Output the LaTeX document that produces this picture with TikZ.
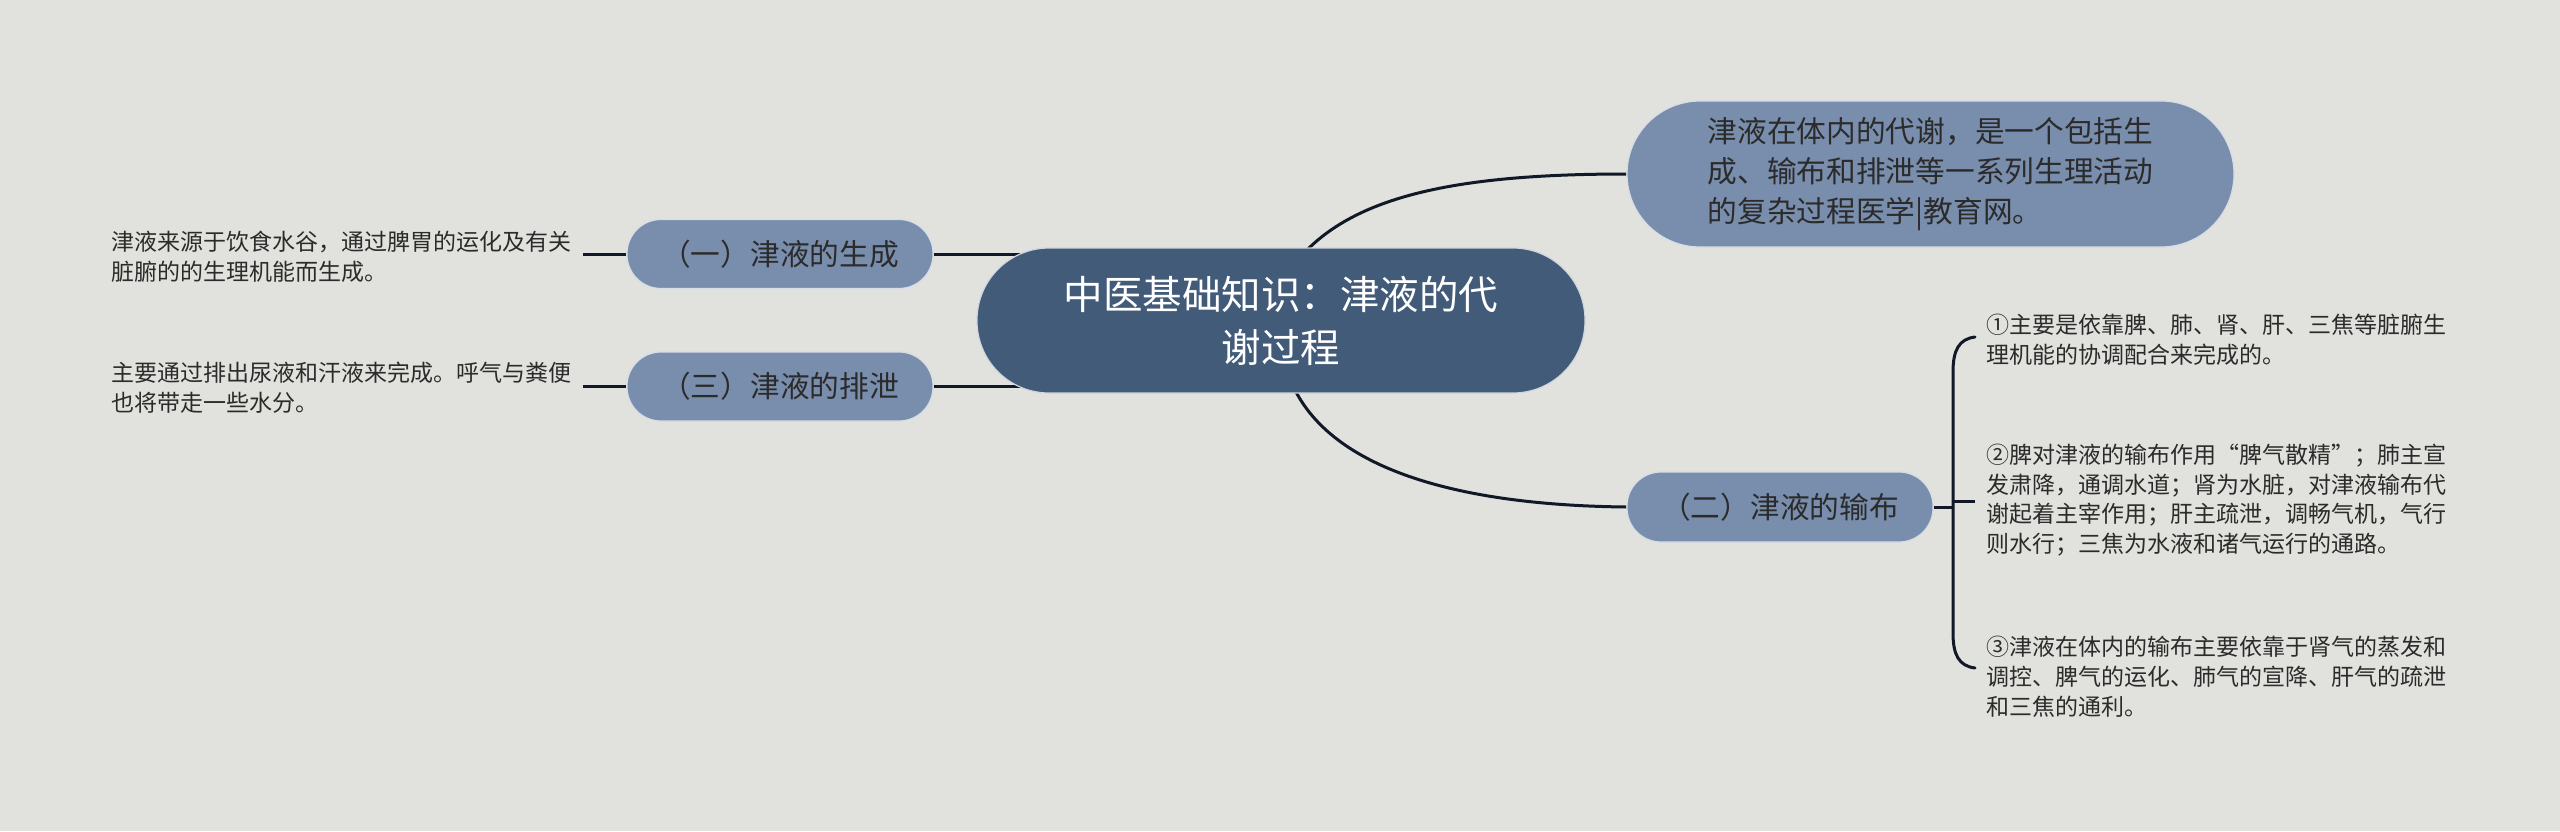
\documentclass[tikz,border=0pt]{standalone}
\usepackage{fontspec}
\setmainfont{Noto Sans CJK SC}
\usetikzlibrary{backgrounds}
\definecolor{bg}{HTML}{E1E2DD}
\definecolor{mainfill}{HTML}{425B79}
\definecolor{subfill}{HTML}{798DAC}
\definecolor{linec}{HTML}{111827}
\definecolor{txt}{HTML}{2B2B2B}
\tikzset{
  mainbox/.style={rectangle, fill=mainfill, draw=white!75!mainfill, line width=1.2pt,
    rounded corners=72pt, minimum width=608pt, minimum height=145pt, inner sep=0pt,
    align=center, text=white, font=\fontsize{39.5pt}{53pt}\selectfont},
  topbox/.style={rectangle, fill=subfill, draw=white!70!subfill, line width=1.2pt,
    rounded corners=73pt, minimum width=607pt, minimum height=146pt, inner sep=0pt,
    align=left, text=txt, font=\fontsize{29.7pt}{40pt}\selectfont},
  subbox/.style={rectangle, fill=subfill, draw=white!70!subfill, line width=1.2pt,
    rounded corners=34pt, minimum width=306pt, minimum height=69pt, inner sep=0pt,
    align=center, text=txt, font=\fontsize{29.7pt}{40pt}\selectfont},
  leaf/.style={inner sep=0pt, align=left, text=txt, anchor=west,
    font=\fontsize{23pt}{29.8pt}\selectfont},
  conn/.style={draw=linec, line width=3pt},
}
\begin{document}
\begin{tikzpicture}[x=1pt,y=-1pt]
\useasboundingbox (0,0) rectangle (2560,831);
\node[mainbox] (c) at (1281,320.5) {中医基础知识：津液的代\\谢过程};
\node[topbox] (tr) at (1930.5,174) {津液在体内的代谢，是一个包括生\\成、输布和排泄等一系列生理活动\\的复杂过程医学|教育网。};
\node[subbox] (n1) at (780,254) {（一）津液的生成};
\node[subbox] (n3) at (780,386.5) {（三）津液的排泄};
\node[subbox, minimum height=70pt] (n2) at (1780,507) {（二）津液的输布};
\node[leaf] (l1) at (111,256.5) {津液来源于饮食水谷，通过脾胃的运化及有关\\脏腑的的生理机能而生成。};
\node[leaf] (l3) at (111,388) {主要通过排出尿液和汗液来完成。呼气与粪便\\也将带走一些水分。};
\node[leaf] (r1) at (1986,339.5) {①主要是依靠脾、肺、肾、肝、三焦等脏腑生\\理机能的协调配合来完成的。};
\node[leaf] (r2) at (1986,500) {②脾对津液的输布作用“脾气散精”；肺主宣\\发肃降，通调水道；肾为水脏，对津液输布代\\谢起着主宰作用；肝主疏泄，调畅气机，气行\\则水行；三焦为水液和诸气运行的通路。};
\node[leaf] (r3) at (1986,677) {③津液在体内的输布主要依靠于肾气的蒸发和\\调控、脾气的运化、肺气的宣降、肝气的疏泄\\和三焦的通利。};
\coordinate (l1e) at (583,254);
\coordinate (l3e) at (583,386.5);
\coordinate (c1) at (1045,254);
\coordinate (c3) at (1045,386.5);
\coordinate (ct) at (1305,252);
\coordinate (cb) at (1294,388);
\coordinate (bm) at (1953,507);
\coordinate (bt) at (1975,337);
\coordinate (bb) at (1975,668);
\coordinate (tl) at (1953,501);
\coordinate (tr2) at (1975,501);
\begin{pgfonlayer}{background}
\fill[bg] (0,0) rectangle (2560,831);
\draw[conn] (l1e) -- (n1.west);
\draw[conn] (l3e) -- (n3.west);
\draw[conn] (n1.east) -- (c1);
\draw[conn] (n3.east) -- (c3);
\draw[conn] (ct) .. controls (1360,195) and (1460,174) .. (tr.west);
\draw[conn] (cb) .. controls (1330,462) and (1440,505) .. (n2.west);
\draw[conn] (n2.east) -- (bm);
\draw[conn, line cap=round] (bt) .. controls (1959,339) and (1953,350) .. (1953,372) -- (1953,633) .. controls (1953,655) and (1959,666) .. (bb);
\draw[conn] (tl) -- (tr2);
\end{pgfonlayer}
\end{tikzpicture}
\end{document}
